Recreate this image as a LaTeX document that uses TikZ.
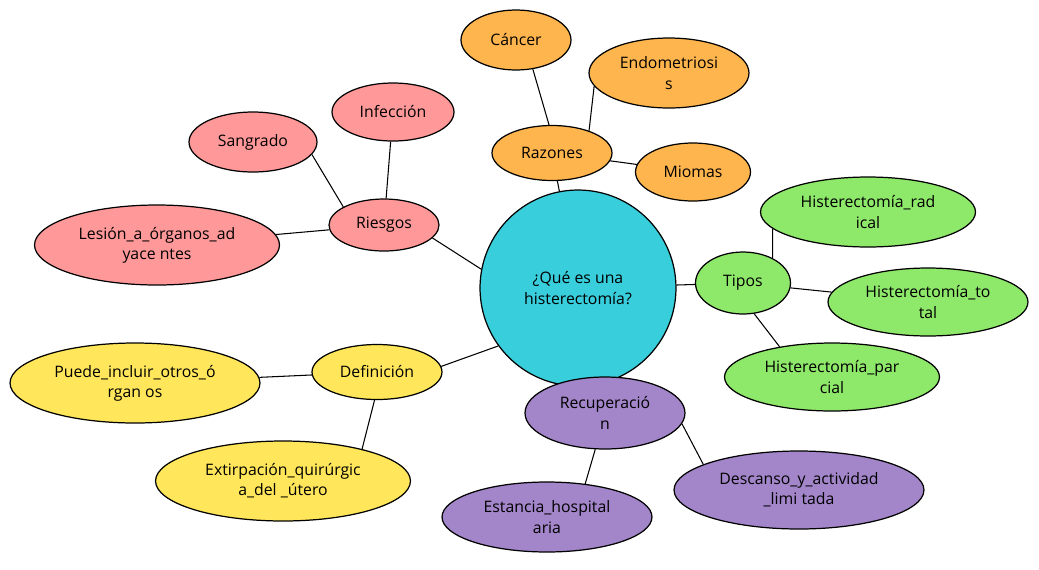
\documentclass[tikz,border=0pt]{standalone}
\usepackage{fontspec}
\setmainfont{Open Sans}
\definecolor{mmcyan}{RGB}{56,206,220}
\definecolor{mmorange}{RGB}{255,181,77}
\definecolor{mmpink}{RGB}{255,153,153}
\definecolor{mmgreen}{RGB}{142,232,106}
\definecolor{mmyellow}{RGB}{255,230,90}
\definecolor{mmpurple}{RGB}{163,133,201}
\usetikzlibrary{shapes.geometric,backgrounds}

\begin{document}
\begin{tikzpicture}[x=0.02cm, y=-0.02cm,
  bubble/.style={ellipse, draw=black, line width=0.7pt, inner sep=0pt, align=center, font=\fontsize{9}{11.5}\selectfont},
  hub/.style={bubble, circle, fill=mmcyan, minimum size=3.92cm},
  razon/.style={bubble, fill=mmorange},
  riesgo/.style={bubble, fill=mmpink},
  tipo/.style={bubble, fill=mmgreen},
  defin/.style={bubble, fill=mmyellow},
  recup/.style={bubble, fill=mmpurple},
  link/.style={draw=black, line width=0.6pt}]
  \useasboundingbox (0,0) rectangle (1039,569);

  %--- Central node ---
  \node[hub] (hub) at (578,288) {¿Qué es una\\histerectomía?};

  % Razones branch
  \node[razon, minimum width=2.4cm, minimum height=1.1cm] (razones) at (552,153) {Razones};
  \node[razon, minimum width=2.2cm, minimum height=1.2cm] (cancer) at (516,40) {Cáncer};
  \node[razon, minimum width=3.2cm, minimum height=1.4cm] (endo) at (669,73) {Endometriosi\\s};
  \node[razon, minimum width=2.3cm, minimum height=1.16cm] (miomas) at (693,172) {Miomas};

  % Riesgos branch
  \node[riesgo, minimum width=2.2cm, minimum height=1.04cm] (riesgos) at (384,225) {Riesgos};
  \node[riesgo, minimum width=2.44cm, minimum height=1.16cm] (infeccion) at (393,112) {Infección};
  \node[riesgo, minimum width=2.56cm, minimum height=1.2cm] (sangrado) at (253,142) {Sangrado};
  \node[riesgo, minimum width=4.9cm, minimum height=1.6cm] (lesion) at (157,245) {Lesión\_a\_órganos\_ad\\yace ntes};

  % Tipos branch
  \node[tipo, minimum width=1.9cm, minimum height=1.24cm] (tipos) at (743,283) {Tipos};
  \node[tipo, minimum width=4.3cm, minimum height=1.4cm] (radical) at (868,212) {Histerectomía\_rad\\ical};
  \node[tipo, minimum width=4.0cm, minimum height=1.36cm] (total) at (928,302) {Histerectomía\_to\\tal};
  \node[tipo, minimum width=4.3cm, minimum height=1.36cm] (parcial) at (832,377) {Histerectomía\_par\\cial};

  % Definicion branch
  \node[defin, minimum width=2.6cm, minimum height=1.1cm] (definicion) at (377,372) {Definición};
  \node[defin, minimum width=5.0cm, minimum height=1.6cm] (puede) at (135,383) {Puede\_incluir\_otros\_ó\\rgan os};
  \node[defin, minimum width=5.1cm, minimum height=1.6cm] (extirpacion) at (283,481) {Extirpación\_quirúrgic\\a\_del \_útero};

  % Recuperacion branch
  \node[recup, minimum width=3.2cm, minimum height=1.44cm] (recuperacion) at (605,413) {Recuperació\\n};
  \node[recup, minimum width=4.2cm, minimum height=1.4cm] (estancia) at (547,517) {Estancia\_hospital\\aria};
  \node[recup, minimum width=5.0cm, minimum height=1.56cm] (descanso) at (799,490) {Descanso\_y\_actividad\\\_limi tada};

  % Links (behind the bubbles)
  \begin{scope}[on background layer]
    \draw[link] (riesgos.-15) -- (hub.169);
    \draw[link] (razones) -- (hub);
    \draw[link] (tipos) -- (hub);
    \draw[link] (definicion.5) -- (hub.216);
    \draw[link] (recuperacion) -- (hub);
    \draw[link] (cancer.-60) -- (razones.96);
    \draw[link] (razones.31) -- (endo.190);
    \draw[link] (razones) -- (miomas);
    \draw[link] (sangrado.-12) -- (riesgos.156);
    \draw[link] (infeccion) -- (riesgos);
    \draw[link] (lesion) -- (riesgos);
    \draw[link] (tipos.40) -- (radical.190);
    \draw[link] (tipos) -- (total);
    \draw[link] (tipos.-70) -- (parcial.150);
    \draw[link] (puede) -- (definicion);
    \draw[link] (definicion.-95) -- (extirpacion.22);
    \draw[link] (recuperacion.-105) -- (estancia.41);
    \draw[link] (recuperacion.-8) -- (descanso.165);
  \end{scope}
\end{tikzpicture}
\end{document}
